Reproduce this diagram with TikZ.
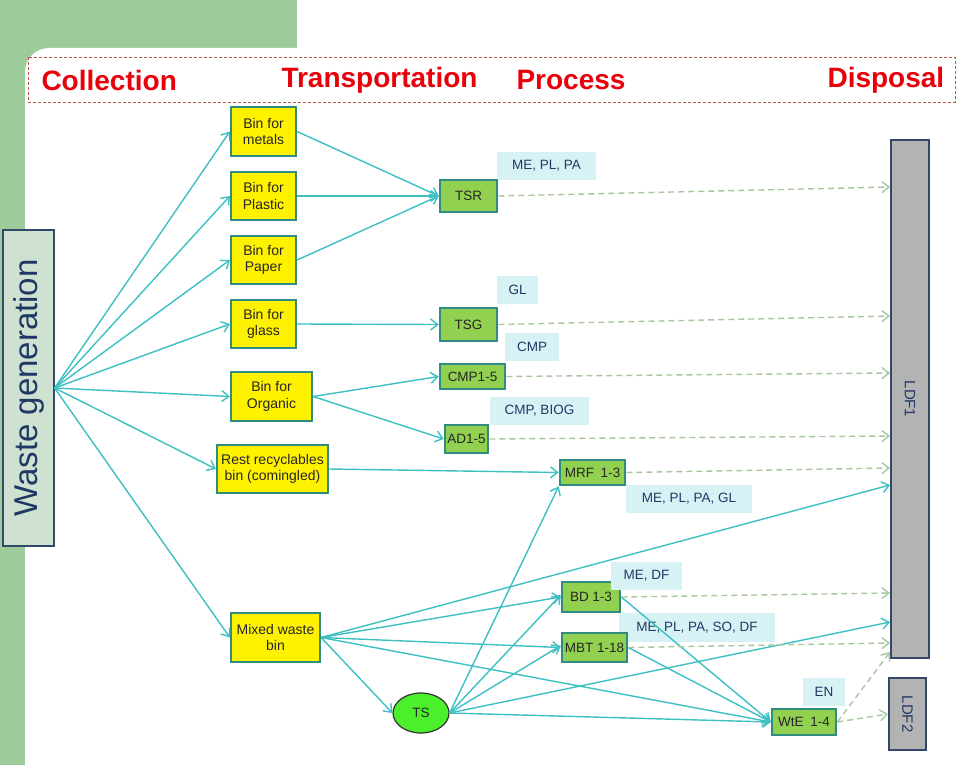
\documentclass[tikz,border=0pt]{standalone}
\usepackage{fontspec}
\setmainfont{Liberation Sans}
\usetikzlibrary{arrows.meta,shapes.geometric}
\definecolor{bggreen}{HTML}{9CCB9C}
\definecolor{hdrred}{HTML}{E8000B}
\definecolor{dashred}{HTML}{C0504D}
\definecolor{wgfill}{HTML}{CFE2D2}
\definecolor{navy}{HTML}{1F3864}
\definecolor{boxline}{HTML}{2E8C80}
\definecolor{procgreen}{HTML}{92D050}
\definecolor{labfill}{HTML}{D6F2F5}
\definecolor{teal}{HTML}{3CC0C2}
\definecolor{dashgreen}{HTML}{A8C6A0}
\definecolor{ldfgray}{HTML}{B3B3B3}
\definecolor{ldfline}{HTML}{34466A}
\definecolor{tsgreen}{HTML}{4CEF2C}
\begin{document}
\begin{tikzpicture}[x=1pt,y=-1pt,
  hdr/.style={anchor=west,text=hdrred,font=\fontsize{28}{30}\selectfont\bfseries},
  ybox/.style={draw=boxline,line width=2.2pt,fill=yellow,align=center,inner sep=0pt,
    text=black!85,font=\fontsize{14}{16.5}\selectfont},
  pbox/.style={draw=boxline,line width=2.6pt,fill=procgreen,align=center,inner sep=0pt,
    text=black!85,font=\fontsize{13.5}{16}\selectfont},
  lab/.style={fill=labfill,inner sep=0pt,text=navy,font=\fontsize{13.5}{16}\selectfont},
  ldf/.style={draw=ldfline,line width=1.2pt,fill=ldfgray,inner sep=0pt,text=navy,
    font=\fontsize{15}{17}\selectfont},
  conn/.style={draw=teal,line width=1.4pt,-{Straight Barb[length=7pt,width=11pt]}},
  dconn/.style={draw=dashgreen,line width=1.4pt,dash pattern=on 6pt off 4pt,
    -{Straight Barb[length=7pt,width=11pt]}}
]
\useasboundingbox (0,0) rectangle (960,765);
\fill[white] (0,0) rectangle (960,765);
\fill[bggreen] (0,0) rectangle (297,765);
\fill[white,rounded corners=24pt] (25,48) rectangle (1000,820);

% header
\draw[dashred,line width=0.9pt,dash pattern=on 3pt off 2pt] (28,57) rectangle (955,102);
\node[hdr] (hcol) at (38,80) {Collection};
\node[hdr] (htra) at (278,80) {Transportation};
\node[hdr] (hpro) at (513,80) {Process};
\node[hdr] (hdis) at (824,80) {Disposal};

% waste generation
\node[draw=ldfline,line width=1.2pt,fill=wgfill,inner sep=0pt,minimum width=51,minimum height=316,
  text=navy,font=\fontsize{33}{36}\selectfont] (wg) at (28.5,388) {\rotatebox{90}{Waste generation}};

% bins
\node[ybox,minimum width=65,minimum height=49] (metals) at (263.5,131.5) {Bin for\\metals};
\node[ybox,minimum width=65,minimum height=48] (plastic) at (263.5,196) {Bin for\\Plastic};
\node[ybox,minimum width=65,minimum height=48] (paper) at (263.5,260) {Bin for\\Paper};
\node[ybox,minimum width=65,minimum height=48] (glass) at (263.5,324) {Bin for\\glass};
\node[ybox,minimum width=81,minimum height=49] (organic) at (271.5,396.5) {Bin for\\Organic};
\node[ybox,minimum width=111,minimum height=48] (rest) at (272.5,469) {Rest recyclables\\bin (comingled)};
\node[ybox,minimum width=89,minimum height=49] (mixed) at (275.5,637.5) {Mixed waste\\bin};

% labels (under connectors)
\node[lab,minimum width=99,minimum height=28] (l1) at (546.5,166) {ME, PL, PA};
\node[lab,minimum width=41,minimum height=28] (l2) at (517.5,290) {GL};
\node[lab,minimum width=54,minimum height=28] (l3) at (532,347) {CMP};
\node[lab,minimum width=99,minimum height=28] (l4) at (539.5,411) {CMP, BIOG};
\node[lab,minimum width=126,minimum height=28] (l5) at (689,499) {ME, PL, PA, GL};
\node[lab,minimum width=156,minimum height=29] (l7) at (697,627.5) {ME, PL, PA, SO, DF};
\node[lab,minimum width=42,minimum height=28] (l8) at (824,692) {EN};

% process boxes
\node[pbox,minimum width=57,minimum height=32] (tsr) at (468.5,196) {TSR};
\node[pbox,minimum width=57,minimum height=33] (tsg) at (468.5,324.5) {TSG};
\node[pbox,minimum width=65,minimum height=25] (cmp) at (472.5,376.5) {CMP1-5};
\node[pbox,minimum width=43,minimum height=28] (ad) at (466.5,439) {AD1-5};
\node[pbox,minimum width=65,minimum height=25] (mrf) at (592.5,472.5) {MRF\enspace1-3};
\node[pbox,minimum width=58,minimum height=30] (bd) at (591,597) {BD 1-3};
\node[pbox,minimum width=65,minimum height=29] (mbt) at (594.5,647.5) {MBT 1-18};
\node[pbox,minimum width=64,minimum height=26] (wte) at (804,722) {WtE\enspace1-4};
\node[lab,minimum width=71,minimum height=28] (l6) at (646.5,576) {ME, DF};

\node[ellipse,draw=black!80,line width=1.2pt,fill=tsgreen,minimum width=56,minimum height=40,
  inner sep=0pt,text=black!85,font=\fontsize{13.5}{16}\selectfont] (ts) at (421,713) {TS};

% landfills
\node[ldf,minimum width=38,minimum height=518] (ldf1) at (910,399) {\rotatebox{-90}{LDF1}};
\node[ldf,minimum width=37,minimum height=72] (ldf2) at (907.5,714) {\rotatebox{-90}{LDF2}};

\coordinate (e1) at (890,187);
\coordinate (e2) at (890,316);
\coordinate (e3) at (890,373);
\coordinate (e4) at (890,436);
\coordinate (e5) at (890,468);
\coordinate (e6) at (890,485);
\coordinate (e7) at (890,593);
\coordinate (e8) at (890,622);
\coordinate (e9) at (890,643);
\coordinate (e10) at (890,652);
\coordinate (e11) at (888,714);

% waste generation fan
\foreach \t in {metals,plastic,paper,glass,organic,rest,mixed}
  \draw[conn] (wg.east) -- (\t.west);

% collection -> transport / process
\draw[conn] (metals.east) -- (tsr.west);
\draw[conn] (plastic.east) -- (tsr.west);
\draw[conn] (paper.east) -- (tsr.west);
\draw[conn] (glass.east) -- (tsg.west);
\draw[conn] (organic.east) -- (cmp.west);
\draw[conn] (organic.east) -- (ad.west);
\draw[conn] (rest.east) -- (mrf.west);
\draw[conn] (mixed.east) -- (e6);
\draw[conn] (mixed.east) -- (bd.west);
\draw[conn] (mixed.east) -- (mbt.west);
\draw[conn] (mixed.east) -- (wte.west);
\draw[conn] (mixed.east) -- (ts.west);

% transfer station
\draw[conn] (ts.east) -- (mrf.south west);
\draw[conn] (ts.east) -- ([yshift=2pt]bd.west);
\draw[conn] (ts.east) -- ([yshift=2pt]mbt.west);
\draw[conn] (ts.east) -- (e8);
\draw[conn] (ts.east) -- (wte.west);
\draw[conn] (bd.east) -- (wte.west);
\draw[conn] (mbt.east) -- (wte.west);

% to disposal
\draw[dconn] (tsr.east) -- (e1);
\draw[dconn] (tsg.east) -- (e2);
\draw[dconn] (cmp.east) -- (e3);
\draw[dconn] (ad.east) -- (e4);
\draw[dconn] (mrf.east) -- (e5);
\draw[dconn] (bd.east) -- (e7);
\draw[dconn] (mbt.east) -- (e9);
\draw[dconn] (wte.east) -- (e10);
\draw[dconn] (wte.east) -- (e11);
\end{tikzpicture}
\end{document}
